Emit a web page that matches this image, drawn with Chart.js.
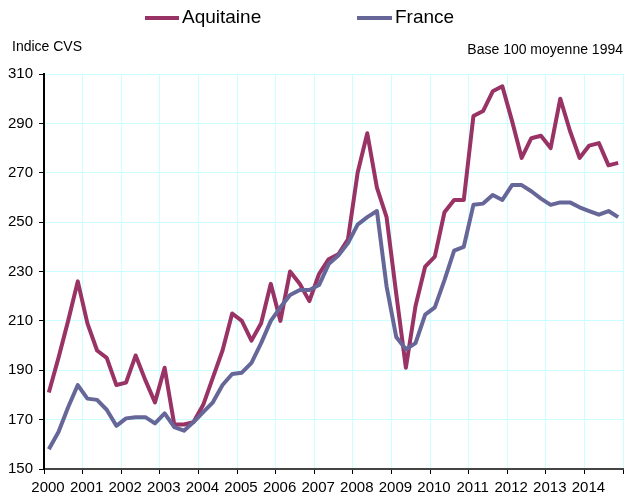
<!DOCTYPE html>
<html>
<head>
<meta charset="utf-8">
<script src="https://cdn.jsdelivr.net/npm/chart.js@4/dist/chart.umd.min.js"></script>
<style>
html,body{margin:0;padding:0;background:#fff;}
#wrap{width:628px;height:496px;position:relative;}
</style>
</head>
<body>
<div id="wrap"><canvas id="c" width="628" height="496"></canvas></div>
<script>
// Quarterly index (CVS), base 100 = 1994 average, 2000 Q1 .. 2014 Q4
const years = [2000,2001,2002,2003,2004,2005,2006,2007,2008,2009,2010,2011,2012,2013,2014];
const quarters = years.flatMap(y => ['T1','T2','T3','T4'].map(q => y + q));
const aquitaine = [
  181, 195, 210, 226,
  209, 198, 195, 184,
  185, 196, 186, 177,
  191, 168, 168, 169,
  176, 187, 198, 213,
  210, 202, 209, 225,
  210, 230, 225, 218,
  229, 235, 237, 243,
  270, 286, 264, 252,
  221, 191, 216, 232,
  236, 254, 259, 259,
  293, 295, 303, 305,
  291, 276, 284, 285,
  280, 300, 287, 276,
  281, 282, 273, 274
];
const france = [
  158, 165, 175, 184,
  178.5, 178, 174, 167.5,
  170.5, 171, 171, 168.5,
  172.5, 167, 165.5, 169,
  173, 177, 184, 188.5,
  189, 193, 201, 210,
  215.5, 220.5, 222.5, 222.5,
  224.5, 233, 236.5, 241.5,
  249, 252, 254.5, 224,
  203.5, 198.5, 201, 212.5,
  215.5, 226.5, 238.5, 240,
  257, 257.5, 261, 259,
  265, 265, 262.5, 259.5,
  257, 258, 258, 256,
  254.5, 253, 254.5, 252
];
const yTicks = [150,170,190,210,230,250,270,290,310];
const seriesNames = ['Aquitaine','France'];
const seriesColors = ['#993366','#666699'];
const yTitle = 'Indice CVS';
const baseNote = 'Base 100 moyenne 1994';

const FONT = '"Liberation Sans", Arial, sans-serif';
const toPoints = arr => arr.map((v,i) => ({x: i + 0.5, y: v}));

const overlay = {
  id: 'overlay',
  afterDraw(chart) {
    const ctx = chart.ctx;
    ctx.save();
    // legend
    const items = [
      {name: seriesNames[0], color: seriesColors[0], x0: 145, x1: 179, tx: 182},
      {name: seriesNames[1], color: seriesColors[1], x0: 357, x1: 392, tx: 395}
    ];
    ctx.font = '19px ' + FONT;
    ctx.textBaseline = 'middle';
    ctx.textAlign = 'left';
    items.forEach(it => {
      ctx.strokeStyle = it.color;
      ctx.lineWidth = 4;
      ctx.beginPath();
      ctx.moveTo(it.x0, 18);
      ctx.lineTo(it.x1, 18);
      ctx.stroke();
      ctx.fillStyle = '#000';
      ctx.fillText(it.name, it.tx, 18);
    });
    ctx.font = '14px ' + FONT;
    ctx.fillStyle = '#000';
    ctx.textAlign = 'left';
    ctx.fillText(yTitle, 12, 47);
    ctx.textAlign = 'right';
    ctx.fillText(baseNote, 623, 50);
    ctx.restore();
  }
};

new Chart(document.getElementById('c'), {
  type: 'line',
  data: {
    labels: quarters,
    datasets: [
      {label: seriesNames[0], data: toPoints(aquitaine), borderColor: seriesColors[0], backgroundColor: seriesColors[0], borderWidth: 4, pointRadius: 0, tension: 0, order: 1, borderJoinStyle: 'round'},
      {label: seriesNames[1], data: toPoints(france), borderColor: seriesColors[1], backgroundColor: seriesColors[1], borderWidth: 4, pointRadius: 0, tension: 0, order: 0, borderJoinStyle: 'round'}
    ]
  },
  options: {
    responsive: false,
    devicePixelRatio: 1,
    animation: false,
    layout: {padding: {top: 74, right: 0, left: 0, bottom: 0}},
    plugins: {legend: {display: false}, tooltip: {enabled: false}},
    scales: {
      x: {
        type: 'linear', min: 0, max: 60,
        afterFit(s) { s.height = 27; },
        afterBuildTicks(s) { s.ticks = years.map((y,i) => ({value: i*4})).concat([{value: 60}]); },
        ticks: {
          autoSkip: false, maxRotation: 0, padding: 5, labelOffset: 4, color: '#000',
          font: {family: FONT, size: 15},
          callback: (v) => { const k = Math.round(v/4); return k < years.length ? String(years[k]) : ''; }
        },
        grid: {color: '#ccffff', lineWidth: 1, tickLength: 5, tickColor: '#000', drawTicks: true},
        border: {color: '#444', width: 2}
      },
      y: {
        min: 150, max: 310,
        afterFit(s) { s.width = 44; },
        afterBuildTicks(s) { s.ticks = yTicks.map(v => ({value: v})); },
        ticks: {color: '#000', padding: 6, font: {family: FONT, size: 15}},
        grid: {color: '#ccffff', lineWidth: 1, tickLength: 5, tickColor: '#000'},
        border: {color: '#000', width: 2}
      }
    }
  },
  plugins: [overlay]
});
</script>
</body>
</html>
